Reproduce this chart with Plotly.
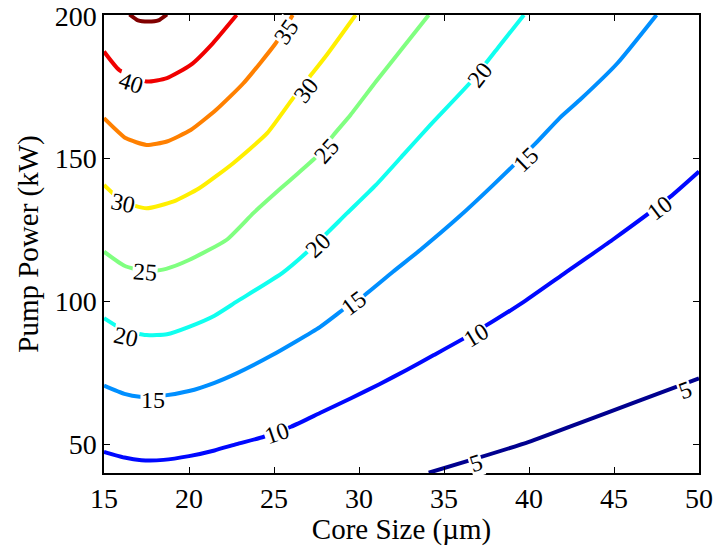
import plotly.graph_objects as go

# Contour levels of the output map (same units as the inline labels)
levels = [5, 10, 15, 20, 25, 30, 35, 40, 45]

# Jet colours for each level
level_colors = {
    5: "rgb(0,0,143)",
    10: "rgb(0,8,255)",
    15: "rgb(0,143,255)",
    20: "rgb(16,255,239)",
    25: "rgb(128,255,128)",
    30: "rgb(255,239,0)",
    35: "rgb(255,128,0)",
    40: "rgb(240,0,0)",
    45: "rgb(128,0,0)",
}

# Traced iso-lines: core size (um) vs pump power (kW)
core_5 = [34.1, 36.9, 40.0, 43.2, 46.1, 50.0]
power_5 = [40.0, 45.0, 50.8, 57.9, 64.4, 73.0]

core_10 = [15, 16.2, 17.2, 18.5, 20, 21.5, 22.8, 24.4, 26, 27.7, 29.5, 31.2,
           32.8, 34.4, 36.9, 39.6, 42, 44.9, 48.3, 50]
power_10 = [47.3, 45.3, 44.4, 44.5, 45.8, 47.8, 50, 52.6, 56.1, 60.9, 66, 71,
            76, 81.2, 89.5, 99.5, 109.5, 121.5, 136.6, 145.5]

core_15 = [15, 16.2, 17.1, 18.5, 20, 21.5, 22.8, 24.9, 27.7, 29.2, 30.2, 32,
           33.6, 35.9, 37.9, 40.4, 41.8, 43, 45.2, 47.5]
power_15 = [70.5, 67.6, 66.6, 67, 68.6, 71.5, 74.8, 81.2, 91, 97.7, 101.6, 110.4,
            118, 129.7, 140.8, 155.4, 164.2, 170.6, 183.4, 200.3]

core_20 = [15, 16.2, 17.5, 18.7, 20, 21.5, 22.8, 25.5, 27.3, 29.3, 31, 32.6,
           34.2, 36.6, 38.2, 39.7]
power_20 = [94.1, 89.8, 88.2, 88.5, 91.1, 95, 99.9, 110, 119.2, 130.9, 140.8, 151.3,
            161.8, 177, 189, 200.3]

core_25 = [15, 16.2, 17.5, 18.7, 20, 22.2, 23.8, 25.4, 26.3, 27.5, 28.5, 29.5,
           31, 32.4, 34.1]
power_25 = [117.4, 112.5, 110.4, 111.5, 114.5, 121.5, 131, 139.6, 144.3, 150.7, 158.3, 165.3,
            177, 187.5, 200.3]

core_30 = [15, 16.1, 17.5, 19.1, 20.6, 22.6, 24.6, 26.1, 27.1, 28.1, 29.8]
power_30 = [140.8, 135, 132.6, 135, 139.6, 148.4, 158.9, 171, 178.7, 186.3, 200.3]

core_35 = [15, 16.3, 17.5, 18.7, 20.1, 21.6, 23.2, 25.1, 26.1]
power_35 = [164.2, 157.1, 154.8, 156, 160, 167.1, 176.4, 190.4, 200.3]

core_40 = [15, 15.9, 17.5, 18.7, 20.1, 21.4, 22.8]
power_40 = [187.5, 181, 177, 178.2, 182.8, 190.4, 200.3]

core_45 = [16.5, 17, 17.6, 18.2, 18.7]
power_45 = [200.5, 198.4, 198, 198.4, 200.5]

lines = {
    5: (core_5, power_5),
    10: (core_10, power_10),
    15: (core_15, power_15),
    20: (core_20, power_20),
    25: (core_25, power_25),
    30: (core_30, power_30),
    35: (core_35, power_35),
    40: (core_40, power_40),
    45: (core_45, power_45),
}

# Inline labels: level, core size, pump power, text angle
label_level = [5, 5, 10, 10, 10, 15, 15, 15, 20, 20, 20, 25, 25, 30, 30, 35, 40]
label_core = [36.9, 49.2, 25.2, 36.9, 47.7, 17.9, 29.7, 39.8, 16.3, 27.6, 37.1,
              17.4, 28.1, 16.1, 26.9, 25.7, 16.6]
label_power = [43.3, 69.0, 53.8, 88.3, 132.6, 65.5, 99.3, 149.5, 87.6, 119.8, 179.3,
               110.4, 152.5, 134.4, 174.0, 194.5, 176.4]
label_angle = [-18, -20, -19, -31, -37, 0, -37, -44, 12, -43, -52,
               4, -48, 12, -52, -55, 18]

serif = "Liberation Serif, Times New Roman, serif"

fig = go.Figure()
for lv in levels:
    xs, ys = lines[lv]
    fig.add_trace(go.Scatter(
        x=xs, y=ys, mode="lines",
        line=dict(color=level_colors[lv], width=4, shape="spline", smoothing=0.5),
        hoverinfo="skip", showlegend=False,
    ))

for lv, cx, py, ang in zip(label_level, label_core, label_power, label_angle):
    fig.add_annotation(
        x=cx, y=py, text=str(lv), showarrow=False, textangle=ang,
        font=dict(family=serif, size=24, color="black"),
        bgcolor="white", borderpad=0,
    )

axis_common = dict(
    showline=True, linecolor="black", linewidth=1.5, mirror="ticks",
    ticks="inside", ticklen=6, tickwidth=1, tickcolor="black",
    showgrid=False, zeroline=False, automargin=False,
    tickfont=dict(family=serif, size=28, color="black"),
)

fig.update_layout(
    width=714, height=546,
    margin=dict(l=104, r=15, t=15, b=73),
    paper_bgcolor="white", plot_bgcolor="white",
    xaxis=dict(range=[15, 50], tickvals=[15, 20, 25, 30, 35, 40, 45, 50],
               title=dict(text="Core Size (\u00b5m)", font=dict(family=serif, size=29, color="black"),
                          standoff=2),
               **axis_common),
    yaxis=dict(range=[39.9, 200.3], tickvals=[50, 100, 150, 200],
               title=dict(text="Pump Power (kW)", font=dict(family=serif, size=29, color="black"),
                          standoff=8),
               **axis_common),
)

fig.write_html("out.html")
